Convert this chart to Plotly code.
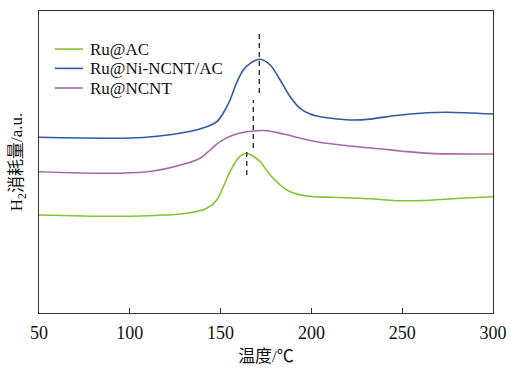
import plotly.graph_objects as go

# Temperature (°C) and H2 consumption (a.u.)
temp_ac = [50, 100, 131.4, 142.4, 147.9, 151.5, 155.2, 158.9, 161.5, 164.4, 168, 171.8, 177.3, 182.8, 188.3, 197.5, 212, 226.9, 237.9, 248, 260, 282, 300]
h2_ac = [98, 96.8, 99.7, 104.7, 113, 126.3, 141.3, 153, 157.8, 159.7, 156.8, 151.3, 138, 128, 121.3, 117, 115.7, 114.8, 113.5, 112.3, 112.4, 114.7, 116.3]

temp_ni = [50, 100, 115, 131.4, 142.4, 147.9, 151.5, 155.2, 159, 162.5, 166.3, 171.8, 177.3, 182.8, 188.3, 193.8, 199.3, 206.6, 221.3, 232.4, 245.2, 263.6, 274.6, 300]
h2_ni = [175.7, 175, 176.8, 181.0, 186.3, 191.3, 200, 213, 231, 243, 249.7, 253.7, 248, 233, 216.3, 204.7, 199, 195.7, 193, 193.9, 197.3, 200.3, 200.8, 199]

temp_ncnt = [50, 94.6, 113, 131.4, 138.7, 144.2, 149.7, 157, 164.4, 170, 175.4, 184.6, 203, 221.3, 237.9, 250, 265, 300]
h2_ncnt = [141.3, 139.8, 142, 149.7, 154.7, 163, 171.3, 178, 181.3, 182.3, 182.3, 179, 171.3, 167, 164.2, 161.8, 159.6, 159]

names = ["Ru@AC", "Ru@Ni-NCNT/AC", "Ru@NCNT"]
colors = ["#86c232", "#2f5aa8", "#a867a8"]

# Peak markers (dashed): x position, y start, y end
peak_x = [164.4, 168.0, 171.3]
peak_y0 = [138, 165, 220]
peak_y1 = [165, 213, 283]

xticks = [50, 100, 150, 200, 250, 300]

fig = go.Figure()
for t, v, n, c in zip([temp_ac, temp_ni, temp_ncnt], [h2_ac, h2_ni, h2_ncnt], names, colors):
    fig.add_trace(go.Scatter(x=t, y=v, mode="lines", name=n, showlegend=False,
                             line=dict(color=c, width=1.6, shape="spline", smoothing=1.0)))

for px, a, b in zip(peak_x, peak_y0, peak_y1):
    fig.add_trace(go.Scatter(x=[px, px], y=[a, b], mode="lines", showlegend=False,
                             line=dict(color="#222222", width=1.3, dash="5px,4px"),
                             hoverinfo="skip"))

font_fam = "Liberation Serif, Times New Roman, Noto Sans CJK SC, serif"

# custom legend (tighter rows than Plotly's legend allows)
leg_rows = [0.874, 0.810, 0.745]
for n, c, yy in zip(names, colors, leg_rows):
    fig.add_shape(type="line", xref="paper", yref="paper", x0=0.035, x1=0.097,
                  y0=yy, y1=yy, line=dict(color=c, width=1.6))
    fig.add_annotation(xref="paper", yref="paper", x=0.107, y=yy, text=n,
                       showarrow=False, xanchor="left", yanchor="middle",
                       font=dict(size=17, family=font_fam, color="#111111"))

fig.update_layout(
    width=511, height=369,
    margin=dict(l=39, r=18, t=11, b=56),
    paper_bgcolor="white", plot_bgcolor="white",
    font=dict(family=font_fam, size=17, color="#111111"),
    showlegend=False,
    xaxis=dict(range=[50, 300], tickvals=xticks, ticks="inside", ticklen=5,
               tickcolor="#333333", showline=True, linecolor="#333333", linewidth=1.2,
               mirror=True, showgrid=False, zeroline=False, automargin=False,
               tickfont=dict(size=18), ticklabelstandoff=3,
               title=dict(text="温度/℃", font=dict(size=17), standoff=8)),
    yaxis=dict(range=[0, 302], showticklabels=False, ticks="", showline=True,
               linecolor="#333333", linewidth=1.2, mirror=True, showgrid=False,
               zeroline=False, automargin=False,
               title=dict(text="H<sub>2</sub>消耗量/a.u.", font=dict(size=17), standoff=10)),
)

fig.write_html("out.html")
